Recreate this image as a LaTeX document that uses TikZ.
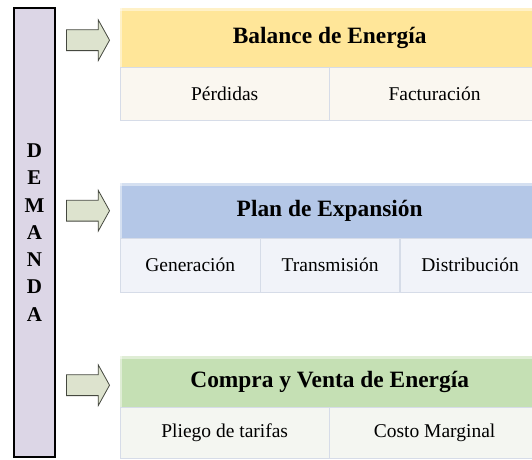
\documentclass[tikz,border=0pt]{standalone}
\usepackage{fontspec}
\setmainfont{Liberation Serif}
\usepackage{xcolor}
\usetikzlibrary{shapes.arrows, positioning}
\definecolor{demandafill}{HTML}{DCD6E6}
\definecolor{arrowfill}{HTML}{DDE3CE}
\definecolor{arrowline}{HTML}{45483F}
\definecolor{cellline}{HTML}{D6DCE8}
\definecolor{balhead}{HTML}{FFE699}
\definecolor{balcell}{HTML}{FAF7F0}
\definecolor{planhead}{HTML}{B4C7E7}
\definecolor{plancell}{HTML}{F1F3F9}
\definecolor{comphead}{HTML}{C5E0B4}
\definecolor{compcell}{HTML}{F4F6F1}

\begin{document}
\begin{tikzpicture}[
    x = 1pt, y = -1pt,
    demanda/.style = {rectangle, draw, line width = 1.4pt, fill = demandafill, minimum width = 41pt, minimum height = 449pt, inner sep = 0pt, align = center, font = \fontsize{21}{27.3}\selectfont\bfseries},
    flecha/.style = {single arrow, draw = arrowline, fill = arrowfill, line width = 0.8pt, minimum height = 43pt, minimum width = 40pt, single arrow head extend = 10pt, single arrow tip angle = 122, inner sep = 10pt},
    header/.style = {rectangle, fill = #1, minimum width = 419pt, inner sep = 0pt, anchor = north west, font = \fontsize{23.4}{28}\selectfont\bfseries,
        % lighter strip on top and left of the bar
        path picture = {\fill[white, opacity = .45] (path picture bounding box.north west) rectangle ([yshift = -3pt]path picture bounding box.north east);
                        \fill[white, opacity = .45] (path picture bounding box.north west) rectangle ([xshift = 2pt]path picture bounding box.south west);}},
    cell/.style = {rectangle, draw = cellline, fill = #1, inner sep = 0pt, font = \fontsize{19.5}{23}\selectfont},
    ]

    \useasboundingbox (0,0) rectangle (532,459);
    \clip (0,0) rectangle (532,459);

    % demand column
    \node [demanda] (dem) at (34.5,232.5) {D\\E\\M\\A\\N\\D\\A};

    % balance de energia
    \node [cell = balcell, minimum width = 209pt, minimum height = 53pt, anchor = north west] (perd) at (120,67) {P\'erdidas};
    \node [cell = balcell, minimum width = 210pt, minimum height = 53pt] (fact) [right = 0pt of perd] {Facturaci\'on};
    \node [header = balhead, minimum height = 59pt] (bal) at (120,8) {Balance de Energ\'ia};

    % plan de expansion
    \node [cell = plancell, minimum width = 140pt, minimum height = 54pt, anchor = north west] (gen) at (120,238) {Generaci\'on};
    \node [cell = plancell, minimum width = 139pt, minimum height = 54pt] (trans) [right = 0pt of gen] {Transmisi\'on};
    \node [cell = plancell, minimum width = 140pt, minimum height = 54pt] (dist) [right = 0pt of trans] {Distribuci\'on};
    \node [header = planhead, minimum height = 55pt] (plan) at (120,183) {Plan de Expansi\'on};

    % compra y venta
    \node [cell = compcell, minimum width = 209pt, minimum height = 51pt, anchor = north west] (pliego) at (120,407) {Pliego de tarifas};
    \node [cell = compcell, minimum width = 210pt, minimum height = 51pt] (costo) [right = 0pt of pliego] {Costo Marginal};
    \node [header = comphead, minimum height = 51pt] (comp) at (120,356) {Compra y Venta de Energ\'ia};

    % arrows from demand to each block
    \node [flecha] (f1) [left = 10pt of bal, yshift = -2.5pt] {};
    \node [flecha] (f2) [left = 10pt of plan] {};
    \node [flecha] (f3) [left = 10pt of comp, yshift = -3.5pt] {};
\end{tikzpicture}
\end{document}
